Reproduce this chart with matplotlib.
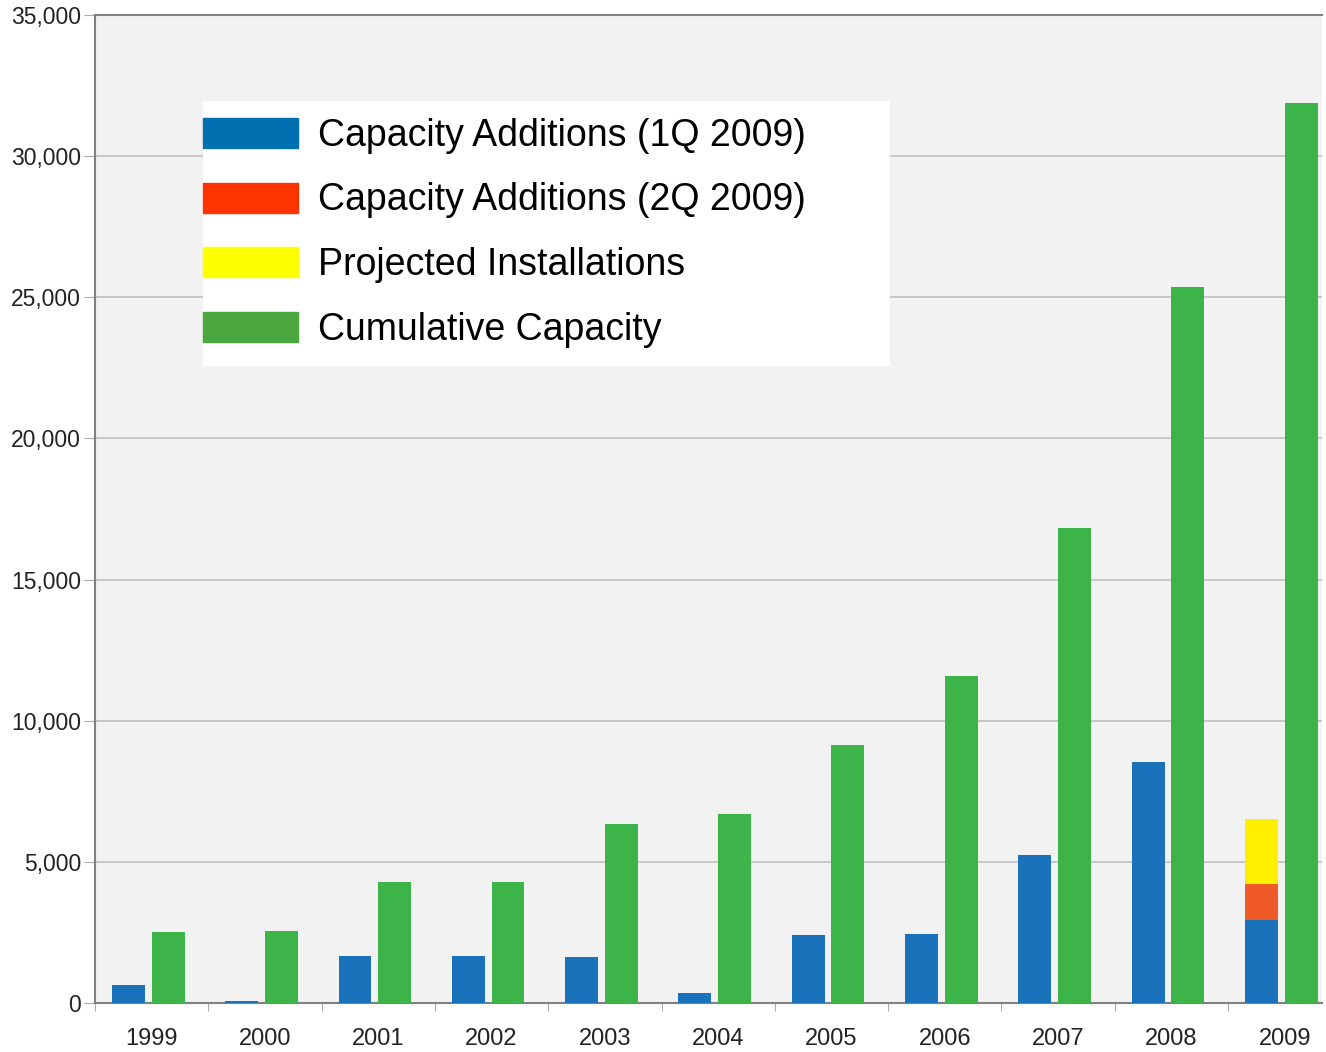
import matplotlib.pyplot as plt
from matplotlib.patches import Patch, Rectangle
from matplotlib.ticker import FuncFormatter
import numpy as np

years = ["1999", "2000", "2001", "2002", "2003", "2004", "2005", "2006", "2007", "2008", "2009"]
additions_1q = [650, 70, 1670, 1670, 1640, 360, 2410, 2450, 5250, 8540, 2940]
additions_2q = [0, 0, 0, 0, 0, 0, 0, 0, 0, 0, 1280]
projected = [0, 0, 0, 0, 0, 0, 0, 0, 0, 0, 2300]
cumulative = [2510, 2560, 4290, 4290, 6340, 6700, 9150, 11590, 16830, 25370, 31880]

legend_labels = ["Capacity Additions (1Q 2009)", "Capacity Additions (2Q 2009)",
                 "Projected Installations", "Cumulative Capacity"]

plt.rcParams['font.family'] = ['Liberation Sans', 'DejaVu Sans']

fig = plt.figure(figsize=(13.26, 10.52), dpi=100)
ax = fig.add_axes([95 / 1326, 49 / 1052, (1322 - 95) / 1326, (1003 - 15) / 1052])
ax.set_facecolor('#f2f2f2')

x = np.arange(len(years))
w = 0.29
xb = x - 0.205
xg = x + 0.145
a1 = np.array(additions_1q)
a2 = np.array(additions_2q)
ax.bar(xb, a1, w, color='#1a72bb', zorder=3)
ax.bar(xb, a2, w, bottom=a1, color='#f05a28', zorder=3)
ax.bar(xb, projected, w, bottom=a1 + a2, color='#fff000', zorder=3)
ax.bar(xg, cumulative, w, color='#3cb44a', zorder=3)

ax.set_xlim(-0.5, -0.5 + (1322 - 95) / 113.3)
ax.set_ylim(0, 35000)

ax.set_yticks(np.arange(0, 35001, 5000))
ax.yaxis.set_major_formatter(FuncFormatter(lambda v, p: f"{int(v):,}"))
ax.grid(axis='y', color='#c4c4c4', linewidth=1.3, zorder=0)

ax.set_xticks(x)
ax.set_xticklabels(years)
ax.set_xticks(np.arange(len(years)) - 0.5, minor=True)
ax.tick_params(axis='x', which='major', length=0, pad=18, labelsize=17, labelcolor='#222222')
ax.tick_params(axis='x', which='minor', length=6, color='#999999')
ax.tick_params(axis='y', length=8, color='#aaaaaa', labelsize=16.5, labelcolor='#222222', pad=2)

for s in ['left', 'bottom', 'top']:
    ax.spines[s].set_color('#808080')
    ax.spines[s].set_linewidth(1.5)
ax.spines['right'].set_visible(False)

# white legend box
box = Rectangle((203 / 1326, 1 - 366 / 1052), (890 - 203) / 1326, (366 - 101) / 1052,
                transform=fig.transFigure, facecolor='white', edgecolor='none', zorder=5)
fig.patches.append(box)

handles = [Patch(color='#0070b0'), Patch(color='#ff3300'), Patch(color='#ffff00'), Patch(color='#4aa83e')]
fs = 27
px = fs * 100 / 72
leg = fig.legend(handles, legend_labels, loc='upper left',
                 bbox_to_anchor=(203 / 1326, 1 - 118 / 1052),
                 frameon=False, fontsize=fs, borderpad=0, borderaxespad=0,
                 handlelength=95 / px, handleheight=32 / px, handletextpad=20 / px,
                 labelspacing=0.76)
leg.set_zorder(6)

fig.savefig('out.png', dpi=100)
